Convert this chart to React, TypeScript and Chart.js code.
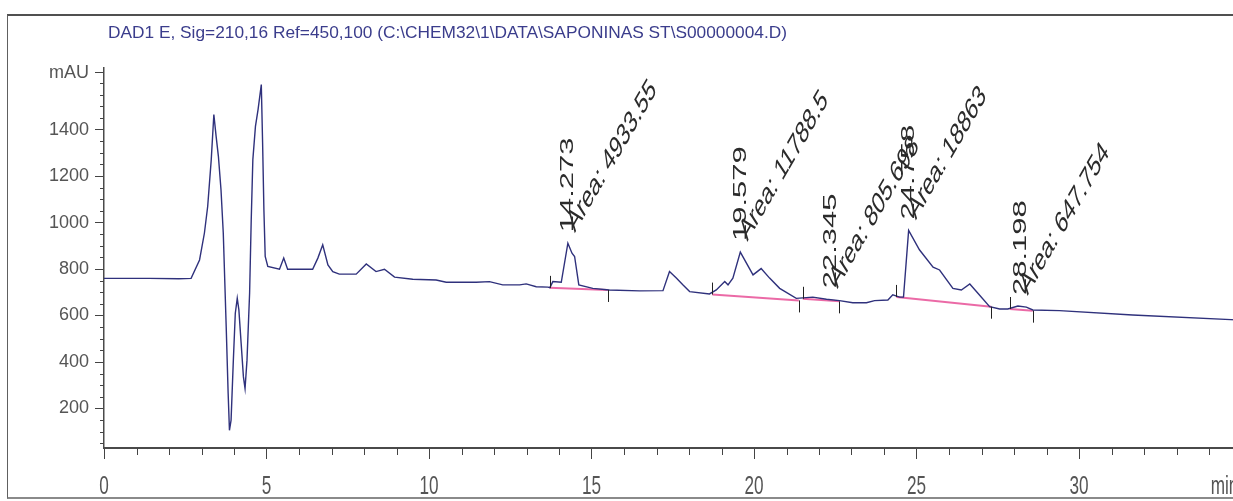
import React, { useEffect, useRef } from 'react';
import { Chart, registerables } from 'chart.js';

Chart.register(...registerables);

const titleText = 'DAD1 E, Sig=210,16 Ref=450,100 (C:\\CHEM32\\1\\DATA\\SAPONINAS ST\\S00000004.D)';

// retention time (min)
const times = [
  0, 1.4, 2.3, 2.68, 2.94, 3.09, 3.19, 3.30, 3.38, 3.45,
  3.52, 3.60, 3.67, 3.76, 3.82, 3.86, 3.91, 3.98, 4.04, 4.10,
  4.15, 4.22, 4.29, 4.34, 4.40, 4.48, 4.53, 4.58, 4.66, 4.74,
  4.84, 4.88, 4.92, 4.96, 5.04, 5.40, 5.53, 5.65, 6.42, 6.58,
  6.73, 6.89, 7.04, 7.24, 7.76, 8.07, 8.37, 8.63, 8.94, 9.50,
  10.22, 10.53, 11.45, 11.86, 12.27, 12.79, 12.99, 13.30, 13.66, 13.72,
  13.81, 14.07, 14.273, 14.40, 14.48, 14.61, 15.04, 15.55, 16.48, 17.20,
  17.40, 17.61, 17.81, 18.02, 18.63, 18.84, 19.10, 19.20, 19.35, 19.579,
  19.97, 20.22, 20.48, 20.79, 21.30, 21.81, 22.23, 22.63, 23.04, 23.46,
  23.71, 24.12, 24.27, 24.48, 24.60, 24.758, 25.09, 25.51, 25.71, 26.12,
  26.38, 26.64, 26.89, 27.25, 27.56, 27.81, 28.12, 28.38, 28.58, 29.40,
  31.65, 35.0,
];

// absorbance (mAU)
const signal = [
  760, 760, 758, 760, 839, 955, 1069, 1271, 1465, 1371,
  1285, 1141, 955, 552, 265, 106, 150, 408, 610, 674,
  624, 480, 336, 286, 408, 696, 1012, 1271, 1414, 1486,
  1594, 1343, 1055, 854, 811, 799, 847, 799, 799, 847,
  904, 818, 789, 778, 778, 822, 789, 799, 765, 756,
  753, 743, 743, 746, 732, 732, 736, 724, 722, 720,
  746, 743, 911, 868, 854, 732, 717, 710, 706, 707,
  789, 761, 732, 703, 693, 710, 746, 732, 761, 873,
  775, 802, 761, 717, 674, 679, 670, 664, 655, 655,
  664, 667, 689, 679, 679, 966, 883, 808, 796, 717,
  710, 736, 696, 638, 628, 628, 641, 636, 624, 621,
  602, 580,
];

// integrated peaks
const peakTimes = [14.273, 19.579, 22.345, 24.758, 28.198];
const peakLabels = ['14.273', '19.579', '22.345', '24.758', '28.198'];
const areaLabels = ['Area: 4933.55', 'Area: 11788.5', 'Area: 805.698', 'Area: 18863', 'Area: 647.754'];
const baseStartTimes = [13.71, 18.72, 21.5, 24.38, 27.87];
const baseStartValues = [719, 690, 672, 680, 628];
const baseEndTimes = [15.5, 21.38, 22.63, 27.3, 28.58];
const baseEndValues = [710, 665, 661, 638, 621];

// axes
const xMajorTicks = [0, 5, 10, 15, 20, 25, 30, 35];
const xMajorLabels = ['0', '5', '10', '15', '20', '25', '30', 'min'];
const yMajorTicks = [200, 400, 600, 800, 1000, 1200, 1400, 1645];
const yMajorLabels = ['200', '400', '600', '800', '1000', '1200', '1400', 'mAU'];

const REG = '"Liberation Sans", Arial, sans-serif';

const decorPlugin = {
  id: 'decor',
  afterDraw(chart: any) {
    const ctx = chart.ctx as CanvasRenderingContext2D;
    const xs = chart.scales.x;
    const ys = chart.scales.y;
    const area = chart.chartArea;

    // title
    ctx.save();
    ctx.font = `17px ${REG}`;
    ctx.fillStyle = '#3b3d8c';
    ctx.textAlign = 'left';
    ctx.textBaseline = 'alphabetic';
    const tw = ctx.measureText(titleText).width;
    ctx.translate(area.left + 4, area.top - 30);
    ctx.scale(679 / tw, 1);
    ctx.fillText(titleText, 0, 0);
    ctx.restore();

    // x tick labels (condensed)
    ctx.save();
    ctx.font = `26px ${REG}`;
    ctx.fillStyle = '#555';
    ctx.textAlign = 'center';
    ctx.textBaseline = 'alphabetic';
    xMajorTicks.forEach((v, i) => {
      const last = i === xMajorTicks.length - 1;
      const x = xs.getPixelForValue(v) - (last ? 17 : 0);
      ctx.save();
      ctx.translate(x, area.bottom + 46);
      ctx.scale(0.66, 1);
      ctx.fillText(xMajorLabels[i], 0, 0);
      ctx.restore();
    });
    ctx.restore();

    // minor ticks
    ctx.save();
    ctx.strokeStyle = '#444';
    ctx.lineWidth = 1;
    ctx.beginPath();
    for (let v = 50; v <= 1600; v += 50) {
      if (v % 200 === 0 && v !== 1600) continue;
      const y = Math.round(ys.getPixelForValue(v)) + 0.5;
      ctx.moveTo(area.left - 4, y);
      ctx.lineTo(area.left, y);
    }
    for (let t = 1; t <= 36; t++) {
      if (t % 5 === 0) continue;
      const x = Math.round(xs.getPixelForValue(t)) + 0.5;
      ctx.moveTo(x, area.bottom);
      ctx.lineTo(x, area.bottom + 7);
    }
    ctx.stroke();

    // integration event marks
    ctx.strokeStyle = '#222';
    ctx.beginPath();
    for (let i = 0; i < baseStartTimes.length; i++) {
      const x0 = Math.round(xs.getPixelForValue(baseStartTimes[i])) + 0.5;
      const y0 = ys.getPixelForValue(baseStartValues[i]);
      ctx.moveTo(x0, y0);
      ctx.lineTo(x0, y0 - 12);
      const x1 = Math.round(xs.getPixelForValue(baseEndTimes[i])) + 0.5;
      const y1 = ys.getPixelForValue(baseEndValues[i]);
      ctx.moveTo(x1, y1);
      ctx.lineTo(x1, y1 + 12);
    }
    ctx.stroke();
    ctx.restore();

    // peak annotations
    ctx.save();
    ctx.font = `31px ${REG}`;
    ctx.fillStyle = '#2b2b2b';
    for (let i = 0; i < peakTimes.length; i++) {
      let apex = -Infinity;
      times.forEach((t, j) => {
        if (Math.abs(t - peakTimes[i]) <= 0.2) apex = Math.max(apex, signal[j]);
      });
      const px = xs.getPixelForValue(peakTimes[i]);
      const py = ys.getPixelForValue(apex) - 11;
      ctx.save();
      ctx.translate(px, py);
      ctx.scale(0.62, 1);
      ctx.rotate(-Math.PI / 2);
      ctx.textAlign = 'left';
      ctx.textBaseline = 'middle';
      ctx.fillText(peakLabels[i], 0, 0);
      ctx.restore();
      ctx.save();
      ctx.translate(px + 7, py + 1);
      ctx.scale(0.62, 1);
      ctx.rotate((-47 * Math.PI) / 180);
      ctx.textAlign = 'left';
      ctx.textBaseline = 'alphabetic';
      ctx.fillText(areaLabels[i], 0, 0);
      ctx.restore();
    }
    ctx.restore();
  },
};

export default function App() {
  const ref = useRef<HTMLCanvasElement | null>(null);

  useEffect(() => {
    if (!ref.current) return;
    const baselineSets = baseStartTimes.map((t, i) => ({
      type: 'line' as const,
      data: [
        { x: t, y: baseStartValues[i] },
        { x: baseEndTimes[i], y: baseEndValues[i] },
      ],
      borderColor: 'rgba(232, 80, 150, 0.85)',
      borderWidth: 2,
      pointRadius: 0,
      tension: 0,
    }));
    const chart = new Chart(ref.current, {
      type: 'line',
      data: {
        datasets: [
          {
            data: times.map((t, i) => ({ x: t, y: signal[i] })),
            borderColor: '#2f317c',
            borderWidth: 1.4,
            pointRadius: 0,
            tension: 0,
          },
          ...baselineSets,
        ],
      },
      options: {
        animation: false,
        responsive: false,
        layout: { padding: { left: 0, top: 68, right: 26, bottom: 0 } },
        plugins: {
          legend: { display: false },
          tooltip: { enabled: false },
          title: { display: false },
        },
        scales: {
          x: {
            type: 'linear',
            min: 0,
            max: 36,
            afterBuildTicks: (s: any) => {
              s.ticks = xMajorTicks.map((v) => ({ value: v }));
            },
            afterFit: (s: any) => {
              s.height = 53;
            },
            grid: { drawOnChartArea: false, tickLength: 11, tickColor: '#444', tickWidth: 1 },
            border: { color: '#4a4a4a', width: 2 },
            ticks: { display: false, autoSkip: false, maxRotation: 0 },
          },
          y: {
            type: 'linear',
            min: 30,
            max: 1665,
            afterBuildTicks: (s: any) => {
              s.ticks = yMajorTicks.map((v) => ({ value: v }));
            },
            afterFit: (s: any) => {
              s.width = 104;
            },
            grid: { drawOnChartArea: false, tickLength: 9, tickColor: '#444', tickWidth: 1 },
            border: { color: '#4a4a4a', width: 1.5 },
            ticks: {
              autoSkip: false,
              padding: 6,
              color: '#555',
              font: { family: REG, size: 18 },
              callback: (v: any) => {
                const k = yMajorTicks.indexOf(Number(v));
                return k >= 0 ? yMajorLabels[k] : '';
              },
            },
          },
        },
      },
      plugins: [decorPlugin],
    });
    return () => chart.destroy();
  }, []);

  return (
    <div style={{ position: 'absolute', left: 0, top: 0, width: 1233, height: 501, overflow: 'hidden', background: '#fff' }}>
      <div
        style={{
          position: 'absolute',
          left: 7,
          top: 14,
          width: 1400,
          height: 481,
          borderTop: '2px solid #505050',
          borderLeft: '1px solid #606060',
          borderBottom: '2px solid #8a8a8a',
          pointerEvents: 'none',
        }}
      />
      <canvas ref={ref} width={1300} height={501} style={{ position: 'absolute', left: 0, top: 0 }} />
    </div>
  );
}
